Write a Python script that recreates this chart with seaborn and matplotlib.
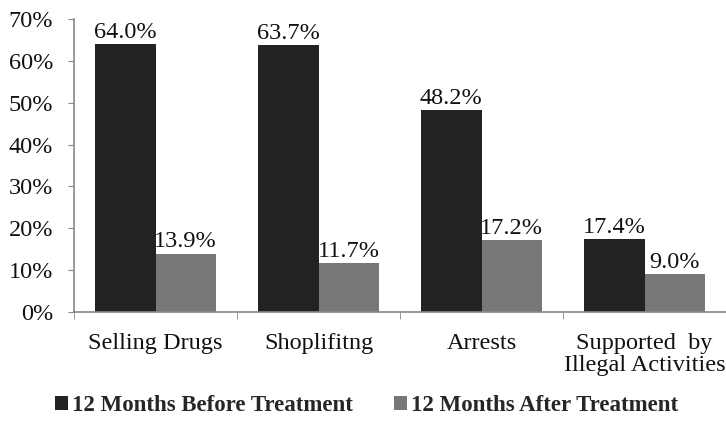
import pandas as pd
import seaborn as sns
import matplotlib.pyplot as plt
from matplotlib.ticker import FixedLocator, PercentFormatter

categorias = ['Selling Drugs', 'Shoplifitng', 'Arrests', 'Supported  by\nIllegal Activities']
antes = [64.0, 63.7, 48.2, 17.4]
depois = [13.9, 11.7, 17.2, 9.0]
series = ['12 Months Before Treatment', '12 Months After Treatment']

df = pd.DataFrame({
    'categoria': categorias * 2,
    'valor': antes + depois,
    'periodo': [series[0]] * 4 + [series[1]] * 4,
})

sns.set_style('white')
plt.rcParams['font.family'] = ['Liberation Serif', 'DejaVu Serif']

fig = plt.figure(figsize=(7.26, 4.21), dpi=100)
ax = fig.add_axes([0.102, 0.259, 0.898, 0.696])

sns.barplot(data=df, x='categoria', y='valor', hue='periodo',
            palette=['#222222', '#777777'], width=0.74, saturation=1,
            edgecolor='none', ax=ax)

for c in ax.containers:
    ax.bar_label(c, fmt='%.1f%%', padding=1, fontsize=17.5, color='#111111')

ax.set_ylim(0, 70)
ax.set_xlim(-0.5, 3.5)
ax.set_yticks(range(0, 71, 10))
ax.yaxis.set_major_formatter(PercentFormatter(decimals=0))
ax.set_xlabel('')
ax.set_ylabel('')
ax.tick_params(axis='y', labelsize=17.5, colors='#111111', length=4, color='#888888',
               direction='out', left=True, pad=11)
ax.tick_params(axis='x', labelsize=17.5, colors='#111111', length=0, pad=15)
ax.xaxis.set_minor_locator(FixedLocator([-0.5, 0.5, 1.5, 2.5, 3.5]))
ax.tick_params(axis='x', which='minor', bottom=True, length=5, color='#888888')
for t in ax.get_xticklabels():
    t.set_linespacing(1.05)

for s in ['top', 'right']:
    ax.spines[s].set_visible(False)
for s in ['left', 'bottom']:
    ax.spines[s].set_color('#888888')
    ax.spines[s].set_linewidth(1.2)

leg = ax.legend(loc='center', bbox_to_anchor=(0.449, -0.32), ncol=2, frameon=False,
                prop={'weight': 'bold', 'size': 16.5}, handlelength=0.55, handleheight=0.55,
                handletextpad=0.2, columnspacing=1.8)

fig.savefig('out.png', dpi=100)
